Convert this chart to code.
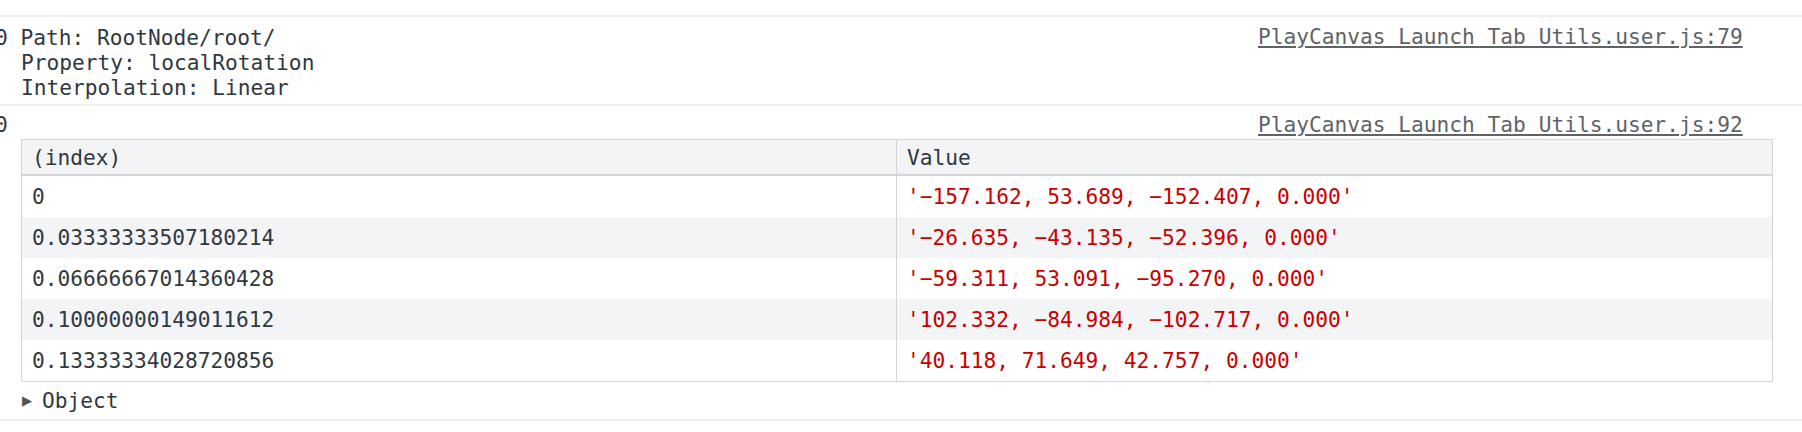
<!DOCTYPE html>
<html><head><meta charset="utf-8">
<script src="https://cdn.jsdelivr.net/npm/chart.js@4"></script>
<style>
html,body{margin:0;padding:0;background:#fff;width:1802px;height:432px;overflow:hidden;font-family:"DejaVu Sans Mono",monospace;font-size:21.2px;color:#303942;}
.abs{position:absolute;white-space:pre;line-height:25px;}
.sep{position:absolute;left:0;width:1802px;height:2px;background:#f0f0f0;}
.link{position:absolute;color:#5f6368;text-decoration:underline;white-space:pre;}
table{position:absolute;left:21px;top:139px;width:1752px;border-collapse:collapse;border:1px solid #d5d5d5;}
td,th{font-weight:normal;text-align:left;padding:0 0 0 10px;height:41px;border-left:1px solid #d5d5d5;white-space:pre;}
th{background:#f3f4f6;height:34px;border-bottom:2px solid #d5d5d5;}
tr.odd td{background:#f3f4f6;}
td.v{color:#c80000;}
</style></head><body>
<div class="sep" style="top:15px"></div>
<div class="abs" style="left:-5px;top:25px">0 Path: RootNode/root/</div>
<div class="abs" style="left:21px;top:50px">Property: localRotation</div>
<div class="abs" style="left:21px;top:75px">Interpolation: Linear</div>
<div class="link" style="left:1258px;top:24px">PlayCanvas Launch Tab Utils.user.js:79</div>
<div class="sep" style="top:104px"></div>
<div class="abs" style="left:-5px;top:112px">0</div>
<div class="link" style="left:1258px;top:112px">PlayCanvas Launch Tab Utils.user.js:92</div>
<table id="t"></table>
<div class="abs" style="left:22px;top:388px;font-size:17px;color:#555">&#9654;</div>
<div class="abs" style="left:42px;top:388px">Object</div>
<div class="sep" style="top:419px"></div>
<div class="abs" style="left:-5px;top:428px">0</div>
<div class="link" style="left:1258px;top:428px">PlayCanvas Launch Tab Utils.user.js:94</div>
<script>
const headers = ["(index)", "Value"];
const indexKeys = ["0", "0.03333333507180214", "0.06666667014360428", "0.10000000149011612", "0.13333334028720856"];
const values = ["'-157.162, 53.689, -152.407, 0.000'", "'-26.635, -43.135, -52.396, 0.000'", "'-59.311, 53.091, -95.270, 0.000'", "'102.332, -84.984, -102.717, 0.000'", "'40.118, 71.649, 42.757, 0.000'"];
const t = document.getElementById('t');
let h = '<tr><th style="width:864px">' + headers[0] + '</th><th>' + headers[1] + '</th></tr>';
indexKeys.forEach((k, i) => {
  h += '<tr class="' + (i % 2 ? 'odd' : '') + '"><td>' + k + '</td><td class="v">' + values[i].replace(/-/g, '\u2212') + '</td></tr>';
});
t.innerHTML = h;
</script>
</body></html>
